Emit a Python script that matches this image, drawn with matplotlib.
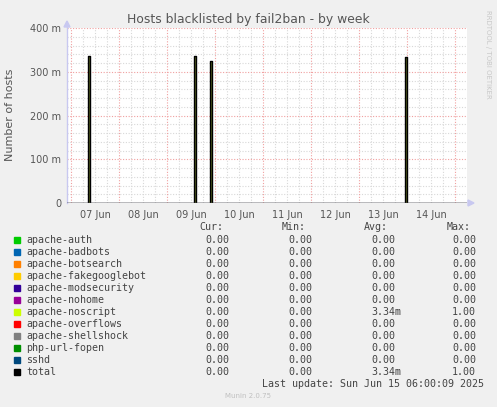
import matplotlib
matplotlib.use("Agg")
import matplotlib.pyplot as plt
import matplotlib.dates as mdates
from datetime import datetime, timedelta

# ---------------- data ----------------
title = "Hosts blacklisted by fail2ban - by week"
ylabel = "Number of hosts"
t_start = datetime(2025, 6, 6, 22, 0)
t_end = datetime(2025, 6, 15, 6, 0)

# spikes of the apache-noscript / total series (value in units, start, end)
spike_starts = [datetime(2025, 6, 7, 8, 30), datetime(2025, 6, 9, 13, 30),
                datetime(2025, 6, 9, 21, 40), datetime(2025, 6, 13, 23, 0)]
spike_ends = [datetime(2025, 6, 7, 9, 30), datetime(2025, 6, 9, 14, 30),
              datetime(2025, 6, 9, 22, 40), datetime(2025, 6, 14, 0, 0)]
spike_values = [0.336, 0.336, 0.325, 0.333]

yticks = [0, 0.1, 0.2, 0.3, 0.4]
ytick_labels = ["0", "100 m", "200 m", "300 m", "400 m"]
xtick_days = [datetime(2025, 6, d, 12, 0) for d in range(7, 15)]
xtick_labels = ["07 Jun", "08 Jun", "09 Jun", "10 Jun", "11 Jun", "12 Jun", "13 Jun", "14 Jun"]

series_names = ["apache-auth", "apache-badbots", "apache-botsearch", "apache-fakegooglebot",
                "apache-modsecurity", "apache-nohome", "apache-noscript", "apache-overflows",
                "apache-shellshock", "php-url-fopen", "sshd", "total"]
series_colors = ["#00CC00", "#0066B3", "#FF8000", "#FFCC00", "#330099", "#990099",
                 "#CCFF00", "#FF0000", "#808080", "#008F00", "#00487D", "#000000"]
cur_vals = ["0.00"] * 12
min_vals = ["0.00"] * 12
avg_vals = ["0.00"] * 6 + ["3.34m"] + ["0.00"] * 4 + ["3.34m"]
max_vals = ["0.00"] * 6 + ["1.00"] + ["0.00"] * 4 + ["1.00"]
last_update = "Last update: Sun Jun 15 06:00:09 2025"
version = "Munin 2.0.75"
watermark = "RRDTOOL / TOBI OETIKER"

# ---------------- figure ----------------
W, H = 497, 407
fig = plt.figure(figsize=(W / 100, H / 100), dpi=100, facecolor="#F0F0F0")

px_l, px_r, px_t, px_b = 67, 467, 28, 203
ax = fig.add_axes([px_l / W, 1 - px_b / H, (px_r - px_l) / W, (px_b - px_t) / H])
ax.set_facecolor("white")
ax.set_xlim(t_start, t_end)
ax.set_ylim(0, 0.4)

# grid
minor_x = []
t = datetime(2025, 6, 7, 0, 0)
while t < t_end:
    minor_x.append(t)
    t += timedelta(hours=6)
for tx in minor_x:
    if tx.hour != 0:
        ax.axvline(tx, color="#D8D8D8", lw=0.8, ls=(0, (1, 1.5)), zorder=0)
for k in range(1, 20):
    yv = k * 0.02
    if k % 5 != 0:
        ax.axhline(yv, color="#D8D8D8", lw=0.8, ls=(0, (1, 1.5)), zorder=0)
for tx in minor_x:
    if tx.hour == 0:
        ax.axvline(tx, color="#F0A0A0", lw=0.8, ls=(0, (1, 1.5)), zorder=0.5)
for yv in yticks[1:]:
    ax.axhline(yv, color="#F0A0A0", lw=0.8, ls=(0, (1, 1.5)), zorder=0.5)

# build step series from spike data
ts = [t_start]
vs = [0]
for s, e, v in zip(spike_starts, spike_ends, spike_values):
    ts += [s, s, e, e]
    vs += [0, v, v, 0]
ts.append(t_end)
vs.append(0)
ax.fill_between(ts, vs, 0, color="#5E6B22", lw=0, zorder=2)
ax.plot(ts, vs, color="black", lw=1.0, zorder=3)
ax.axhline(0, color="#6E6E7E", lw=1.0, zorder=4)

for sp in ax.spines.values():
    sp.set_visible(False)
ax.plot([0, 0], [0, 1.02], transform=ax.transAxes, color="#C8C8F0", lw=1, clip_on=False, zorder=1)

ax.set_yticks(yticks)
ax.set_yticklabels(ytick_labels)
ax.set_xticks(xtick_days)
ax.set_xticklabels(xtick_labels)
ax.tick_params(axis="both", length=0, labelsize=7, labelcolor="#555555", pad=4)
ax.tick_params(axis="x", pad=5)

# axis arrows
fig.patches.append(plt.Polygon([[468 / W, 1 - 200 / H], [468 / W, 1 - 206 / H], [474 / W, 1 - 203 / H]],
                               closed=True, transform=fig.transFigure, color="#C8C8F0"))
fig.patches.append(plt.Polygon([[64 / W, 1 - 27 / H], [70 / W, 1 - 27 / H], [67 / W, 1 - 21 / H]],
                               closed=True, transform=fig.transFigure, color="#C8C8F0"))

fig.text(248 / W, 1 - 19 / H, title, ha="center", va="center", fontsize=8.9, color="#555555")
fig.text(10 / W, 1 - 115 / H, ylabel, ha="center", va="center", rotation=90, fontsize=8, color="#555555")
fig.text(488 / W, 1 - 54 / H, watermark, ha="center", va="center", rotation=270, fontsize=5,
         color="#C8C8C8")

# legend table
mono = "DejaVu Sans Mono"
fs = 7.2
tc = "#444444"
fig.text(199 / W, 1 - 227 / H, "Cur:", fontsize=fs, family=mono, color=tc, va="center")
fig.text(282 / W, 1 - 227 / H, "Min:", fontsize=fs, family=mono, color=tc, va="center")
fig.text(364 / W, 1 - 227 / H, "Avg:", fontsize=fs, family=mono, color=tc, va="center")
fig.text(447 / W, 1 - 227 / H, "Max:", fontsize=fs, family=mono, color=tc, va="center")
for i, name in enumerate(series_names):
    y = 240 + i * 12
    fig.patches.append(plt.Rectangle((14 / W, 1 - (y + 3) / H), 6 / W, 6 / H,
                                     transform=fig.transFigure, color=series_colors[i]))
    fig.text(26 / W, 1 - y / H, name, fontsize=fs, family=mono, color=tc, va="center")
    fig.text(205 / W, 1 - y / H, cur_vals[i], fontsize=fs, family=mono, color=tc, va="center")
    fig.text(288 / W, 1 - y / H, min_vals[i], fontsize=fs, family=mono, color=tc, va="center")
    fig.text(371 / W, 1 - y / H, avg_vals[i], fontsize=fs, family=mono, color=tc, va="center")
    fig.text(452 / W, 1 - y / H, max_vals[i], fontsize=fs, family=mono, color=tc, va="center")
fig.text(262 / W, 1 - 384 / H, last_update, fontsize=fs, family=mono, color=tc, va="center")
fig.text(248 / W, 1 - 396 / H, version, fontsize=5, color="#C0C0C0", ha="center", va="center")

fig.savefig("out.png", dpi=100, facecolor=fig.get_facecolor())
